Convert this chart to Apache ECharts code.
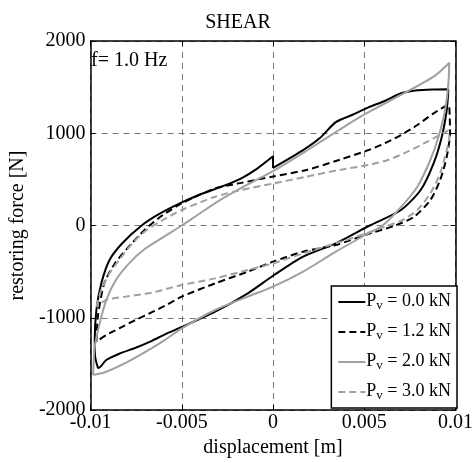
<!DOCTYPE html>
<html><head><meta charset="utf-8">
<script src="https://cdn.jsdelivr.net/npm/echarts@6/dist/echarts.min.js"></script>
<style>html,body{margin:0;padding:0;background:#fff}#c{width:476px;height:463px}</style>
</head><body><div id="c"></div>
<script>
var seriesNames = ['P0', 'P1.2', 'P2.0', 'P3.0'];
var legendLabels = ['0.0', '1.2', '2.0', '3.0'];
var xTicks = [-0.01, -0.005, 0, 0.005, 0.01];
var yTicks = [-2000, -1000, 0, 1000, 2000];

// Pv = 0.0 kN (black solid)
var loopP00 = [
 [-0.00959,-1548],[-0.00975,-1420],[-0.00977,-1241],[-0.00968,-916],[-0.00941,-627],[-0.00896,-374],
 [-0.00825,-190],[-0.0072,0],[-0.00628,120],[-0.005,250],[-0.00406,331],[-0.00282,421],[-0.00174,512],
 [-0.00085,620],[0,750],[0,625],[0.00165,818],[0.00255,945],[0.00344,1120],[0.00433,1198],[0.00523,1280],
 [0.00612,1350],[0.00701,1433],[0.00791,1465],[0.0088,1474],[0.00961,1476],
 [0.00952,1252],[0.00925,963],[0.0088,674],[0.00809,385],[0.00701,168],[0.0053,0],[0.00344,-193],
 [0.00165,-338],[0,-545],[-0.00138,-735],[-0.00317,-934],[-0.00496,-1097],[-0.00592,-1180],
 [-0.00664,-1250],[-0.00753,-1325],[-0.00843,-1390],[-0.00914,-1458],[-0.00945,-1530],[-0.00959,-1548]
];
// Pv = 1.2 kN (black dashed)
var loopP12 = [
 [-0.00968,-1259],[-0.0096,-988],[-0.00925,-627],[-0.0087,-420],[-0.008,-250],[-0.007,-40],[-0.00603,114],
 [-0.005,240],[-0.00317,403],[-0.00174,462],[0,532],[0.00183,602],[0.00362,710],[0.00523,818],
 [0.00612,891],[0.00701,981],[0.00791,1089],[0.0088,1216],[0.00961,1306],
 [0.00968,1200],[0.0097,999],[0.00952,746],[0.00916,493],[0.00862,276],[0.00773,95],[0.0067,0],
 [0.00505,-103],[0.00344,-211],[0.00165,-284],[0,-392],[-0.00138,-500],[-0.00317,-627],[-0.005,-771],
 [-0.00592,-870],[-0.00664,-940],[-0.00753,-1024],[-0.00843,-1115],[-0.00914,-1187],[-0.00968,-1259]
];
// Pv = 2.0 kN (grey solid)
var loopP20 = [
 [-0.00986,-1621],[-0.00977,-1314],[-0.0095,-1060],[-0.00914,-808],[-0.00861,-591],[-0.00789,-410],
 [-0.007,-250],[-0.00592,-115],[-0.005,0],[-0.00406,125],[-0.00282,285],[-0.00138,445],[0,590],
 [0.00183,810],[0.00362,1035],[0.00496,1198],[0.00701,1415],[0.0088,1613],[0.00966,1765],
 [0.00961,1541],[0.00943,1252],[0.00907,963],[0.00862,710],[0.00791,421],[0.00701,200],[0.006,0],
 [0.00505,-103],[0.00344,-284],[0.00165,-500],[0,-663],[-0.00138,-771],[-0.00317,-916],[-0.005,-1115],
 [-0.00592,-1240],[-0.00664,-1330],[-0.00807,-1490],[-0.00914,-1585],[-0.00986,-1621]
];
// Pv = 3.0 kN (grey dashed)
var loopP30 = [
 [-0.00968,-880],[-0.00941,-699],[-0.00896,-518],[-0.00843,-374],[-0.00771,-193],[-0.00693,-49],
 [-0.00603,60],[-0.005,168],[-0.00317,312],[-0.00174,385],[0,455],[0.00183,529],[0.00362,602],
 [0.00523,656],[0.0063,710],[0.00737,800],[0.00845,908],[0.0094,1010],[0.00962,1030],
 [0.00966,960],[0.00952,818],[0.00916,566],[0.00862,349],[0.00791,168],[0.00701,50],[0.0063,0],
 [0.00505,-90],[0.00344,-193],[0.00165,-302],[0,-410],[-0.00138,-482],[-0.00317,-573],[-0.005,-645],
 [-0.00592,-692],[-0.00664,-728],[-0.00807,-771],[-0.00914,-808],[-0.00968,-880]
];

var loops = [loopP00, loopP12, loopP20, loopP30];
var colors = ['#000000', '#000000', '#a0a0a0', '#a0a0a0'];
var dashes = ['solid', [7, 4], 'solid', [7, 4]];
var FONT = '"Liberation Serif", "Times New Roman", serif';

var chart = echarts.init(document.getElementById('c'), null, {renderer: 'canvas'});
var gridLine = {show: true, lineStyle: {color: '#777', type: [6, 5], width: 1}};
function xAx(pos, labels) {
  return {type: 'value', position: pos, min: -0.01, max: 0.01, interval: 0.005,
    axisLine: {show: true, onZero: false, lineStyle: {color: '#000', width: 1.5}},
    axisTick: {show: true, inside: true, length: 5, lineStyle: {color: '#000'}},
    axisLabel: {show: labels, color: '#000', fontFamily: FONT, fontSize: 20, margin: 3,
      formatter: function (v) { return String(xTicks.find(function (t) { return Math.abs(t - v) < 1e-9; })); }},
    splitLine: labels ? gridLine : {show: false},
    name: labels ? 'displacement [m]' : '', nameLocation: 'middle', nameGap: 19,
    nameTextStyle: {color: '#000', fontFamily: FONT, fontSize: 20}};
}
function yAx(pos, labels) {
  return {type: 'value', position: pos, min: -2000, max: 2000, interval: 1000,
    axisLine: {show: true, onZero: false, lineStyle: {color: '#000', width: 1.5}},
    axisTick: {show: true, inside: true, length: 5, lineStyle: {color: '#000'}},
    axisLabel: {show: labels, color: '#000', fontFamily: FONT, fontSize: 20, margin: 5,
      formatter: function (v) { return String(yTicks.find(function (t) { return Math.abs(t - v) < 1e-6; })); }},
    splitLine: labels ? gridLine : {show: false},
    name: labels ? 'restoring force [N]' : '', nameLocation: 'middle', nameGap: 57,
    nameTextStyle: {color: '#000', fontFamily: FONT, fontSize: 20}};
}

var series = loops.map(function (d, i) {
  return {name: seriesNames[i], type: 'line', data: d, showSymbol: false, symbol: 'none',
    smooth: 0.25, xAxisIndex: 0, yAxisIndex: 0, animation: false,
    lineStyle: {color: colors[i], width: 2, type: dashes[i]}, itemStyle: {color: colors[i], opacity: 0}, z: 2 + i};
});

chart.setOption({
  animation: false,
  backgroundColor: '#fff',
  title: {text: 'SHEAR', left: 'center', top: 8,
    textStyle: {fontFamily: FONT, fontSize: 20, fontWeight: 'normal', color: '#000'}},
  grid: {left: 86, right: 17, top: 41, bottom: 53, containLabel: false},
  xAxis: [xAx('bottom', true), xAx('top', false)],
  yAxis: [yAx('left', true), yAx('right', false)],
  legend: {orient: 'vertical', right: 19, top: 286, padding: [2, 6, 6, 6], itemGap: 6,
    itemWidth: 27, itemHeight: 14, backgroundColor: '#fff', borderColor: '#000', borderWidth: 1.5,
    itemStyle: {opacity: 0},
    data: seriesNames,
    formatter: function (n) { return '{a|P}{s|v}{a| = ' + legendLabels[seriesNames.indexOf(n)] + ' kN}'; },
    textStyle: {fontFamily: FONT, color: '#000', padding: [0, 0, 0, -4],
      rich: {a: {fontFamily: FONT, fontSize: 18, color: '#000', lineHeight: 20, verticalAlign: 'top'},
             s: {fontFamily: FONT, fontSize: 13, color: '#000', lineHeight: 13, padding: [11, 0, 0, 0], verticalAlign: 'bottom'}}}},
  graphic: [{type: 'text', left: 91, top: 51, z: 10,
    style: {text: 'f= 1.0 Hz', fontFamily: FONT, fontSize: 20, fill: '#000'}}],
  series: series
});
</script></body></html>
